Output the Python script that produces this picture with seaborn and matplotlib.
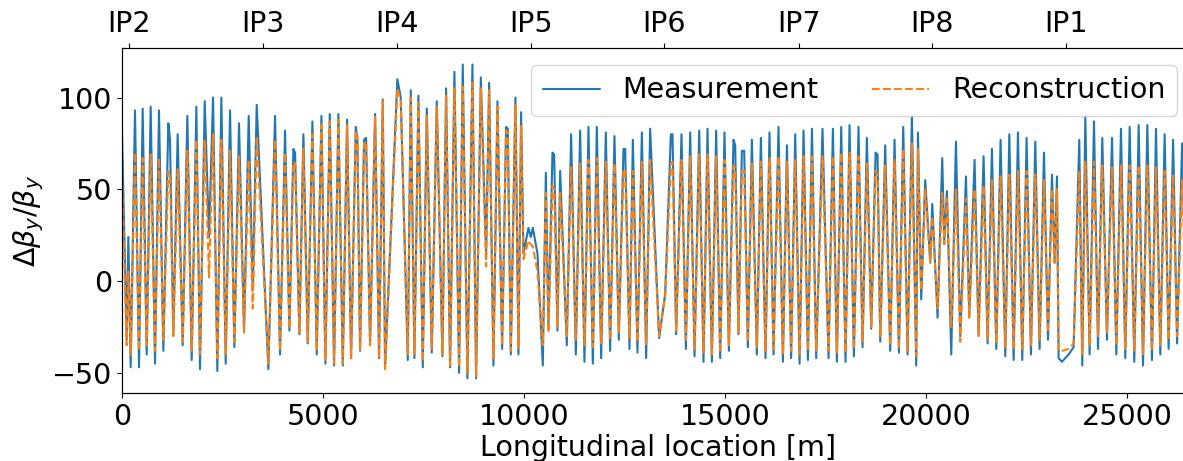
import numpy as np
import matplotlib
matplotlib.use("Agg")
import matplotlib.pyplot as plt
import seaborn as sns

# BPM positions along the ring [m] (peak / trough vertices)
s_pos = [
    0, 116, 158, 216, 323, 423, 514, 614, 713, 821, 920, 1028, 1152, 1194, 1277, 1384,
    1509, 1625, 1733, 1849, 1940, 2057, 2164, 2264, 2371, 2471, 2579, 2687, 2794, 2910,
    3035, 3151, 3251, 3350, 3640,
    3806, 3930, 4055, 4163, 4262, 4304, 4411, 4511, 4619, 4735, 4843, 4959, 5058, 5167,
    5274, 5381, 5491, 5597, 5697, 5813, 5854, 5920, 6020, 6070, 6169, 6294, 6393, 6485,
    6542, 6848, 6932,
    7107, 7181, 7272, 7371, 7480, 7580, 7704, 7828, 7968, 8060, 8159, 8267, 8383, 8474,
    8590, 8715, 8806, 8923, 9055, 9130, 9237, 9337, 9453, 9552, 9594, 9669, 9784, 9859,
    9925, 9983, 10108, 10166, 10216, 10332, 10465,
    10540, 10605, 10705, 10747, 10829, 10896, 11061, 11169, 11286, 11393, 11501, 11600,
    11709, 11808, 11916, 12032, 12139, 12247, 12355, 12471, 12513, 12620, 12704, 12819,
    12928, 13035, 13134, 13358, 13508, 13649, 13690,
    13781, 13914, 14023, 14130, 14238, 14354, 14461, 14561, 14669, 14776, 14876, 14983,
    15092, 15207, 15249, 15331, 15415, 15473, 15564, 15664, 15788, 15888, 16003, 16102,
    16202, 16326, 16436, 16536, 16640, 16742, 16850, 16949, 17058, 17158, 17264, 17420,
    17570, 17679, 17778, 17886, 17993, 18093, 18201, 18316, 18416, 18524, 18632, 18740,
    18789, 18856, 18980, 19104, 19212, 19321, 19428, 19536, 19644, 19751, 19794, 19875,
    19975, 20100, 20150, 20282, 20398, 20448, 20515, 20622, 20739, 20846, 20988, 21070,
    21202, 21302, 21426, 21526, 21634, 21742, 21849, 21966, 22066, 22173, 22281, 22388,
    22496, 22604, 22712, 22819, 22928, 23028, 23127, 23193, 23251, 23292, 23375, 23541,
    23665, 23806, 23880, 23956, 24063, 24172, 24272, 24378, 24495, 24620, 24727, 24843,
    24950, 25059, 25174, 25283, 25391, 25498, 25614, 25714, 25821, 25929, 26028, 26139,
    26238, 26363, 26480,
]

beat_meas = [
    80, -32, 24, -47, 93, -47, 94, -40, 95, -45, 93, -38, 86, 77, -29, 80,
    -35, 90, -43, 95, -48, 98, 24, 100, -49, 100, -45, 93, -36, 86,
    -27, 90, -5, 96, -48,
    90, -40, 82, -27, 72, 70, -29, 80, -34, 87, -40, 90, -45, 91,
    -46, 91, -46, 88, -42, 84, 78, -38, 77, 78, -34, 91, -42, 99,
    -47, 110, 100,
    -43, 104, -42, 101, -47, 94, -39, 98, -41, 105, -47, 114, -50, 118,
    -53, 118, -53, 111, 15, 108, -46, 98, -37, 84, 83, -40, 100, -40,
    92, 15, 29, 24, 29, 15, -46,
    59, -25, 70, 69, -27, 60, -35, 80, -40, 82, -44, 84,
    -45, 84, -42, 81, -38, 79, -32, 72, 72, -37, 77, -39,
    81, -42, 83, -31, -7, 80, 80,
    -29, 80, -37, 81, -41, 82, -44, 83, -44, 82, -42, 81,
    -38, 77, 74, -29, 71, 71, -36, 77, -40, 78, -42, 81,
    -40, 84, -44, 74, -42, 80, -45, 82, -43, 83, -42, 83,
    -42, 83, -44, 84, -44, 85, -41, 84, -36, 78, -26, 70,
    69, -33, 74, -38, 77, -39, 84, -40, 90, -46, 81, -10,
    55, 10, 42, -20, 67, 22, 49, -40, 76, -30, 57, -19,
    66, -29, 68, -34, 72, -37, 77, -41, 80, -43, 81, -43,
    78, -40, 76, -37, 70, -32, 58, 10, 57, -42, -44, -40,
    -36, 77, -46, 90, -40, 87, -37, 78, -32, 78, -40, 83,
    -42, 84, -44, 85, -46, 85, -43, 83, -40, 80, -37, 77,
    -34, 75, -30,
]

beat_reco = [
    58, -35, 5, -40, 70, -38, 67, -35, 69, -38, 67, -32, 60, 58, -30, 61,
    -33, 71, -38, 77, -40, 77, 2, 80, -42, 77, -40, 71, -33, 68,
    -28, 66, -15, 79, -45,
    77, -38, 70, -26, 65, 64, -28, 72, -33, 80, -38, 85, -43, 87,
    -45, 88, -45, 85, -42, 82, 77, -38, 75, 76, -35, 90, -42, 98,
    -48, 105, 98,
    -40, 100, -40, 97, -44, 90, -37, 95, -40, 101, -46, 105, -47, 106,
    -50, 108, -52, 105, 8, 104, -42, 95, -35, 82, 81, -38, 96, -37,
    85, 12, 22, 20, 19, 5, -35,
    48, -28, 52, 50, -25, 48, -30, 62, -32, 64, -35, 66,
    -36, 67, -34, 65, -32, 64, -28, 60, 61, -31, 60, -33,
    65, -35, 66, -30, -8, 64, 65,
    -27, 66, -32, 68, -37, 69, -39, 69, -40, 68, -39, 66,
    -35, 63, 62, -28, 60, 60, -33, 64, -36, 65, -38, 67,
    -37, 68, -40, 65, -38, 66, -40, 68, -38, 68, -38, 68,
    -38, 68, -39, 70, -39, 70, -37, 68, -33, 64, -25, 60,
    58, -30, 63, -35, 66, -37, 72, -38, 75, -41, 72, -5,
    50, 10, 35, -15, 48, 20, 45, -25, 50, -33, 45, -20,
    50, -30, 52, -32, 55, -34, 57, -36, 58, -37, 60, -37,
    60, -35, 58, -32, 55, -28, 50, 10, 50, -38, -38, -37,
    -34, 60, -40, 65, -35, 65, -30, 63, -28, 62, -35, 63,
    -37, 63, -38, 63, -40, 63, -38, 62, -35, 60, -32, 58,
    -30, 55, -28,
]

ip_pos = [165, 3515, 6828, 10162, 13488, 16824, 20140, 23464]
ip_names = ["IP2", "IP3", "IP4", "IP5", "IP6", "IP7", "IP8", "IP1"]

sns.set_style("ticks", {"axes.edgecolor": "black", "text.color": "black",
                        "xtick.color": "black", "ytick.color": "black",
                        "axes.labelcolor": "black"})
plt.rcParams['font.family'] = ['DejaVu Sans']
fs = 20.5
plt.rcParams['font.size'] = fs

fig = plt.figure(figsize=(11.83, 4.61), dpi=100)
ax = fig.add_axes([122 / 1183, 68 / 461, 1072 / 1183, 345 / 461])

sns.lineplot(x=s_pos, y=beat_meas, ax=ax, color="#1f77b4", lw=1.5,
             estimator=None, sort=False, label="Measurement")
sns.lineplot(x=s_pos, y=beat_reco, ax=ax, color="#ff7f0e", lw=1.5,
             estimator=None, sort=False, linestyle="--", label="Reconstruction")

ax.set_xlim(0, 26659)
ax.set_ylim(-61, 127)
ax.set_yticks([-50, 0, 50, 100])
ax.set_xticks([0, 5000, 10000, 15000, 20000, 25000])
ax.tick_params(labelsize=fs)
ax.set_xlabel("Longitudinal location [m]", fontsize=fs, labelpad=2)
ax.set_ylabel(r"$\Delta\beta_y/\beta_y$", fontsize=fs)
ax.legend(loc="upper right", ncol=2, fontsize=fs, framealpha=0.8,
          columnspacing=1.9, borderaxespad=0.6)

top = ax.twiny()
top.set_xlim(ax.get_xlim())
top.set_xticks(ip_pos)
top.set_xticklabels(ip_names, fontsize=fs)

fig.savefig("out.png", dpi=100)
